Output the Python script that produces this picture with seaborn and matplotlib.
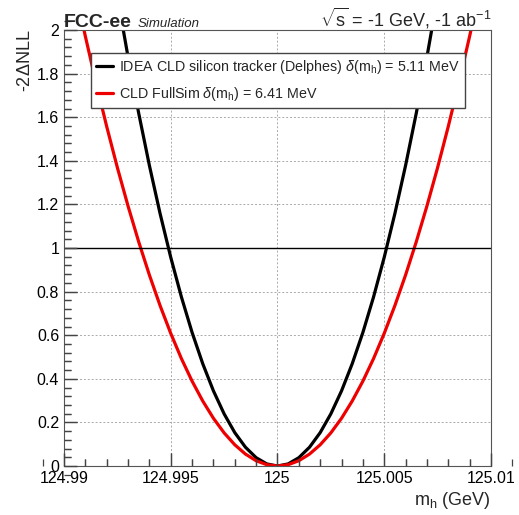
import numpy as np
import pandas as pd
import matplotlib
matplotlib.use("Agg")
import matplotlib.pyplot as plt
import seaborn as sns
from matplotlib.ticker import MultipleLocator, FixedLocator
from matplotlib.lines import Line2D

sns.set_style("ticks", rc={
    "xtick.direction": "in", "ytick.direction": "in",
    "xtick.major.size": 9.5, "ytick.major.size": 9.5,
    "xtick.minor.size": 5.0, "ytick.minor.size": 5.0,
    "xtick.major.width": 0.9, "ytick.major.width": 0.9,
    "xtick.minor.width": 0.9, "ytick.minor.width": 0.9,
    "xtick.color": "#444444", "ytick.color": "#444444",
    "xtick.bottom": True, "ytick.left": True,
    "xtick.top": False, "ytick.right": False,
    "axes.edgecolor": "#555555", "axes.linewidth": 1.0,
})
plt.rcParams['font.family'] = ['Liberation Sans', 'DejaVu Sans']
plt.rcParams['mathtext.fontset'] = 'custom'
plt.rcParams['mathtext.rm'] = 'Liberation Sans'
plt.rcParams['mathtext.it'] = 'Liberation Sans:italic'

# scan points m_h (GeV)
mh = [124.9900, 124.9905, 124.9910, 124.9915, 124.9920, 124.9925, 124.9930, 124.9935,
      124.9940, 124.9945, 124.9950, 124.9955, 124.9960, 124.9965, 124.9970, 124.9975,
      124.9980, 124.9985, 124.9990, 124.9995, 125.0000, 125.0005, 125.0010, 125.0015,
      125.0020, 125.0025, 125.0030, 125.0035, 125.0040, 125.0045, 125.0050, 125.0055,
      125.0060, 125.0065, 125.0070, 125.0075, 125.0080, 125.0085, 125.0090, 125.0095,
      125.0100]
# IDEA CLD silicon tracker (Delphes)
nll_idea = [3.8296, 3.4563, 3.1020, 2.7669, 2.4510, 2.1542, 1.8765, 1.6180, 1.3787, 1.1585,
            0.9574, 0.7755, 0.6127, 0.4691, 0.3447, 0.2394, 0.1532, 0.0862, 0.0383, 0.0096,
            0.0000,
            0.0096, 0.0383, 0.0862, 0.1532, 0.2394, 0.3447, 0.4691, 0.6127, 0.7755, 0.9574,
            1.1585, 1.3787, 1.6180, 1.8765, 2.1542, 2.4510, 2.7669, 3.1020, 3.4563, 3.8296]
# CLD FullSim
nll_cld = [2.4338, 2.1965, 1.9714, 1.7584, 1.5576, 1.3690, 1.1926, 1.0283, 0.8762, 0.7362,
           0.6085, 0.4928, 0.3894, 0.2981, 0.2190, 0.1521, 0.0974, 0.0548, 0.0243, 0.0061,
           0.0000,
           0.0061, 0.0243, 0.0548, 0.0974, 0.1521, 0.2190, 0.2981, 0.3894, 0.4928, 0.6085,
           0.7362, 0.8762, 1.0283, 1.1926, 1.3690, 1.5576, 1.7584, 1.9714, 2.1965, 2.4338]

labels = [r"IDEA CLD silicon tracker (Delphes) $\delta$(m$_\mathrm{h}$) = 5.11 MeV",
          r"CLD FullSim $\delta$(m$_\mathrm{h}$) = 6.41 MeV"]
colors = ["black", "#ee0000"]

xticks = [124.99, 124.995, 125.0, 125.005, 125.01]
xticklabels = ["124.99", "124.995", "125", "125.005", "125.01"]
yticks = [0, 0.2, 0.4, 0.6, 0.8, 1, 1.2, 1.4, 1.6, 1.8, 2]
yticklabels = ["0", "0.2", "0.4", "0.6", "0.8", "1", "1.2", "1.4", "1.6", "1.8", "2"]

fig = plt.figure(figsize=(5.19, 5.15), dpi=100)
ax = fig.add_axes([0.1233, 0.0951, 0.8227, 0.8466])

for ys, c in zip([nll_idea, nll_cld], colors):
    sns.lineplot(x=mh, y=ys, color=c, linewidth=2.3, ax=ax, sort=False)

ax.axhline(1.0, color="black", linewidth=1.0)

ax.set_xlim(124.99, 125.01)
ax.set_ylim(0, 2)

ax.xaxis.set_major_locator(FixedLocator(xticks))
ax.set_xticklabels(xticklabels)
ax.xaxis.set_minor_locator(MultipleLocator(0.001))
ax.yaxis.set_major_locator(FixedLocator(yticks))
ax.set_yticklabels(yticklabels)
ax.yaxis.set_minor_locator(MultipleLocator(0.04))

ax.grid(True, which="major", linestyle=(0, (2, 2)), color="#aaaaaa", linewidth=0.7)

ax.tick_params(which="major", direction="in", length=9.5, width=0.9, color="#444444",
               labelsize=11.5, labelcolor="black",
               bottom=True, left=True, top=False, right=False)
ax.tick_params(which="minor", direction="in", length=5, width=0.9, color="#444444",
               bottom=True, left=True, top=False, right=False)

# inward tick marks drawn explicitly at the locator positions (ROOT style)
tick_kw = dict(color="#444444", linewidth=0.9, clip_on=False, zorder=3)
xt = ax.get_xaxis_transform()
yt = ax.get_yaxis_transform()
x_major = [v for v in ax.xaxis.get_majorticklocs()]
x_minor = [v for v in ax.xaxis.get_minorticklocs()]
y_major = [v for v in ax.yaxis.get_majorticklocs()]
y_minor = [v for v in ax.yaxis.get_minorticklocs()]
ax.vlines(x_major, 0, 0.030, transform=xt, **tick_kw)
ax.vlines(x_minor, 0, 0.016, transform=xt, **tick_kw)
ax.hlines(y_major, 0, 0.030, transform=yt, **tick_kw)
ax.hlines(y_minor, 0, 0.016, transform=yt, **tick_kw)

ax.set_xlabel(r"m$_\mathrm{h}$ (GeV)", fontsize=13, ha="right", x=1.0, labelpad=3)
ax.set_ylabel(r"-2$\Delta$NLL", fontsize=13, ha="right", y=1.0, labelpad=2)

fig.text(0.1233, 0.948, "FCC-ee", fontsize=14, fontweight="bold", ha="left", va="baseline")
fig.text(0.265, 0.948, "Simulation", fontsize=9.5, style="italic", ha="left", va="baseline")
fig.text(0.946, 0.948, r"$\sqrt{\mathrm{s}}$ = -1 GeV, -1 ab$^{-1}$", fontsize=13,
         ha="right", va="baseline")

handles = [Line2D([], [], color=c, linewidth=2.3) for c in colors]
leg = ax.legend(handles, labels, loc="upper left", bbox_to_anchor=(0.063, 0.828, 0.876, 0.119),
                mode="expand", fontsize=10.3, frameon=True, fancybox=False, framealpha=1.0,
                edgecolor="#444444", handlelength=1.2, handletextpad=0.4, labelspacing=0.6,
                borderpad=0.35, borderaxespad=0.0)
leg.get_frame().set_linewidth(1.0)
leg.set_zorder(10)

fig.savefig("out.png", dpi=100)
